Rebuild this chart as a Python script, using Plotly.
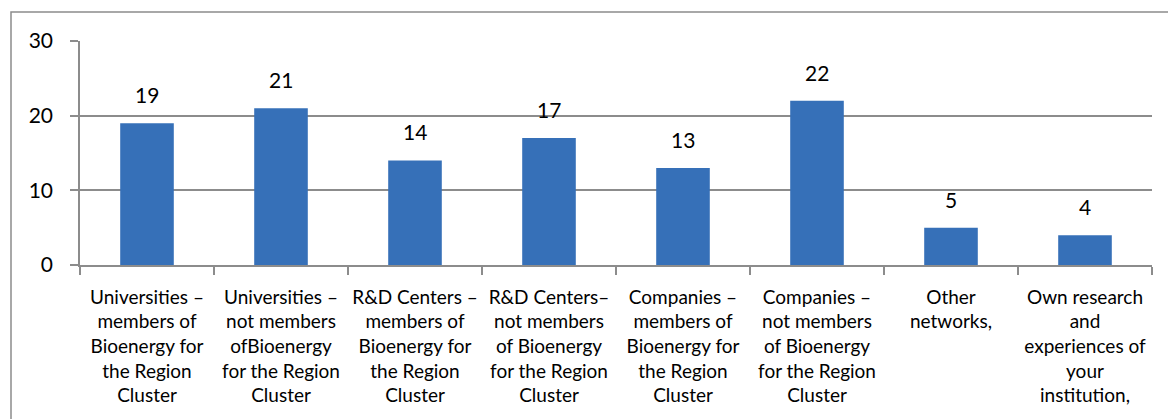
import plotly.graph_objects as go

categories = [
    "Universities –<br>members of<br>Bioenergy for<br>the Region<br>Cluster",
    "Universities –<br>not members<br>ofBioenergy<br>for the Region<br>Cluster",
    "R&D Centers –<br>members of<br>Bioenergy for<br>the Region<br>Cluster",
    "R&D Centers–<br>not members<br>of Bioenergy<br>for the Region<br>Cluster",
    "Companies –<br>members of<br>Bioenergy for<br>the Region<br>Cluster",
    "Companies –<br>not members<br>of Bioenergy<br>for the Region<br>Cluster",
    "Other<br>networks,",
    "Own research<br>and<br>experiences of<br>your<br>institution,",
]
values = [19, 21, 14, 17, 13, 22, 5, 4]
y_ticks = [0, 10, 20, 30]

FONT = "Lato, Calibri, Carlito, sans-serif"

fig = go.Figure()
fig.add_trace(go.Bar(
    x=categories,
    y=values,
    width=0.4,
    marker=dict(color="#3670b8", line=dict(width=0)),
    hoverinfo="skip",
))

for c, v in zip(categories, values):
    fig.add_annotation(x=c, y=v, text=str(v), showarrow=False,
                       yanchor="bottom", yshift=14,
                       font=dict(size=21, color="#000", family=FONT))

W, H = 1168, 419
ml, mr, mt, mb = 80, 16, 41, 154
pw, ph = W - ml - mr, H - mt - mb
# outer chart frame (decoration)
fig.add_shape(type="rect", xref="paper", yref="paper",
              x0=(11 - ml) / pw, x1=(1175 - ml) / pw,
              y0=(H - mb - 430) / ph, y1=(H - mb - 12) / ph,
              line=dict(color="#8c8c8c", width=1.5), layer="below")

fig.update_layout(
    width=W, height=H,
    margin=dict(l=ml, r=mr, t=mt, b=mb, autoexpand=False),
    paper_bgcolor="white", plot_bgcolor="white",
    showlegend=False,
    font=dict(family=FONT, color="#000"),
    xaxis=dict(
        type="category", automargin=False,
        showline=True, linecolor="#8c8c8c", linewidth=1.5,
        ticks="outside", tickson="boundaries", ticklen=8, tickcolor="#8c8c8c", tickwidth=1.5,
        showgrid=False, tickfont=dict(size=19, family=FONT), tickangle=0,
        ticklabelstandoff=14,
    ),
    yaxis=dict(
        range=[0, 30], tickvals=y_ticks, automargin=False,
        showline=True, linecolor="#8c8c8c", linewidth=1.5,
        ticks="outside", ticklen=8, tickcolor="#8c8c8c", tickwidth=1.5,
        showgrid=True, gridcolor="#8c8c8c", gridwidth=1.5,
        zeroline=False, tickfont=dict(size=21, family=FONT),
        ticklabelstandoff=13,
    ),
)

fig.write_html("out.html", config={"displayModeBar": False},
               post_script="document.body.style.margin='0';")
